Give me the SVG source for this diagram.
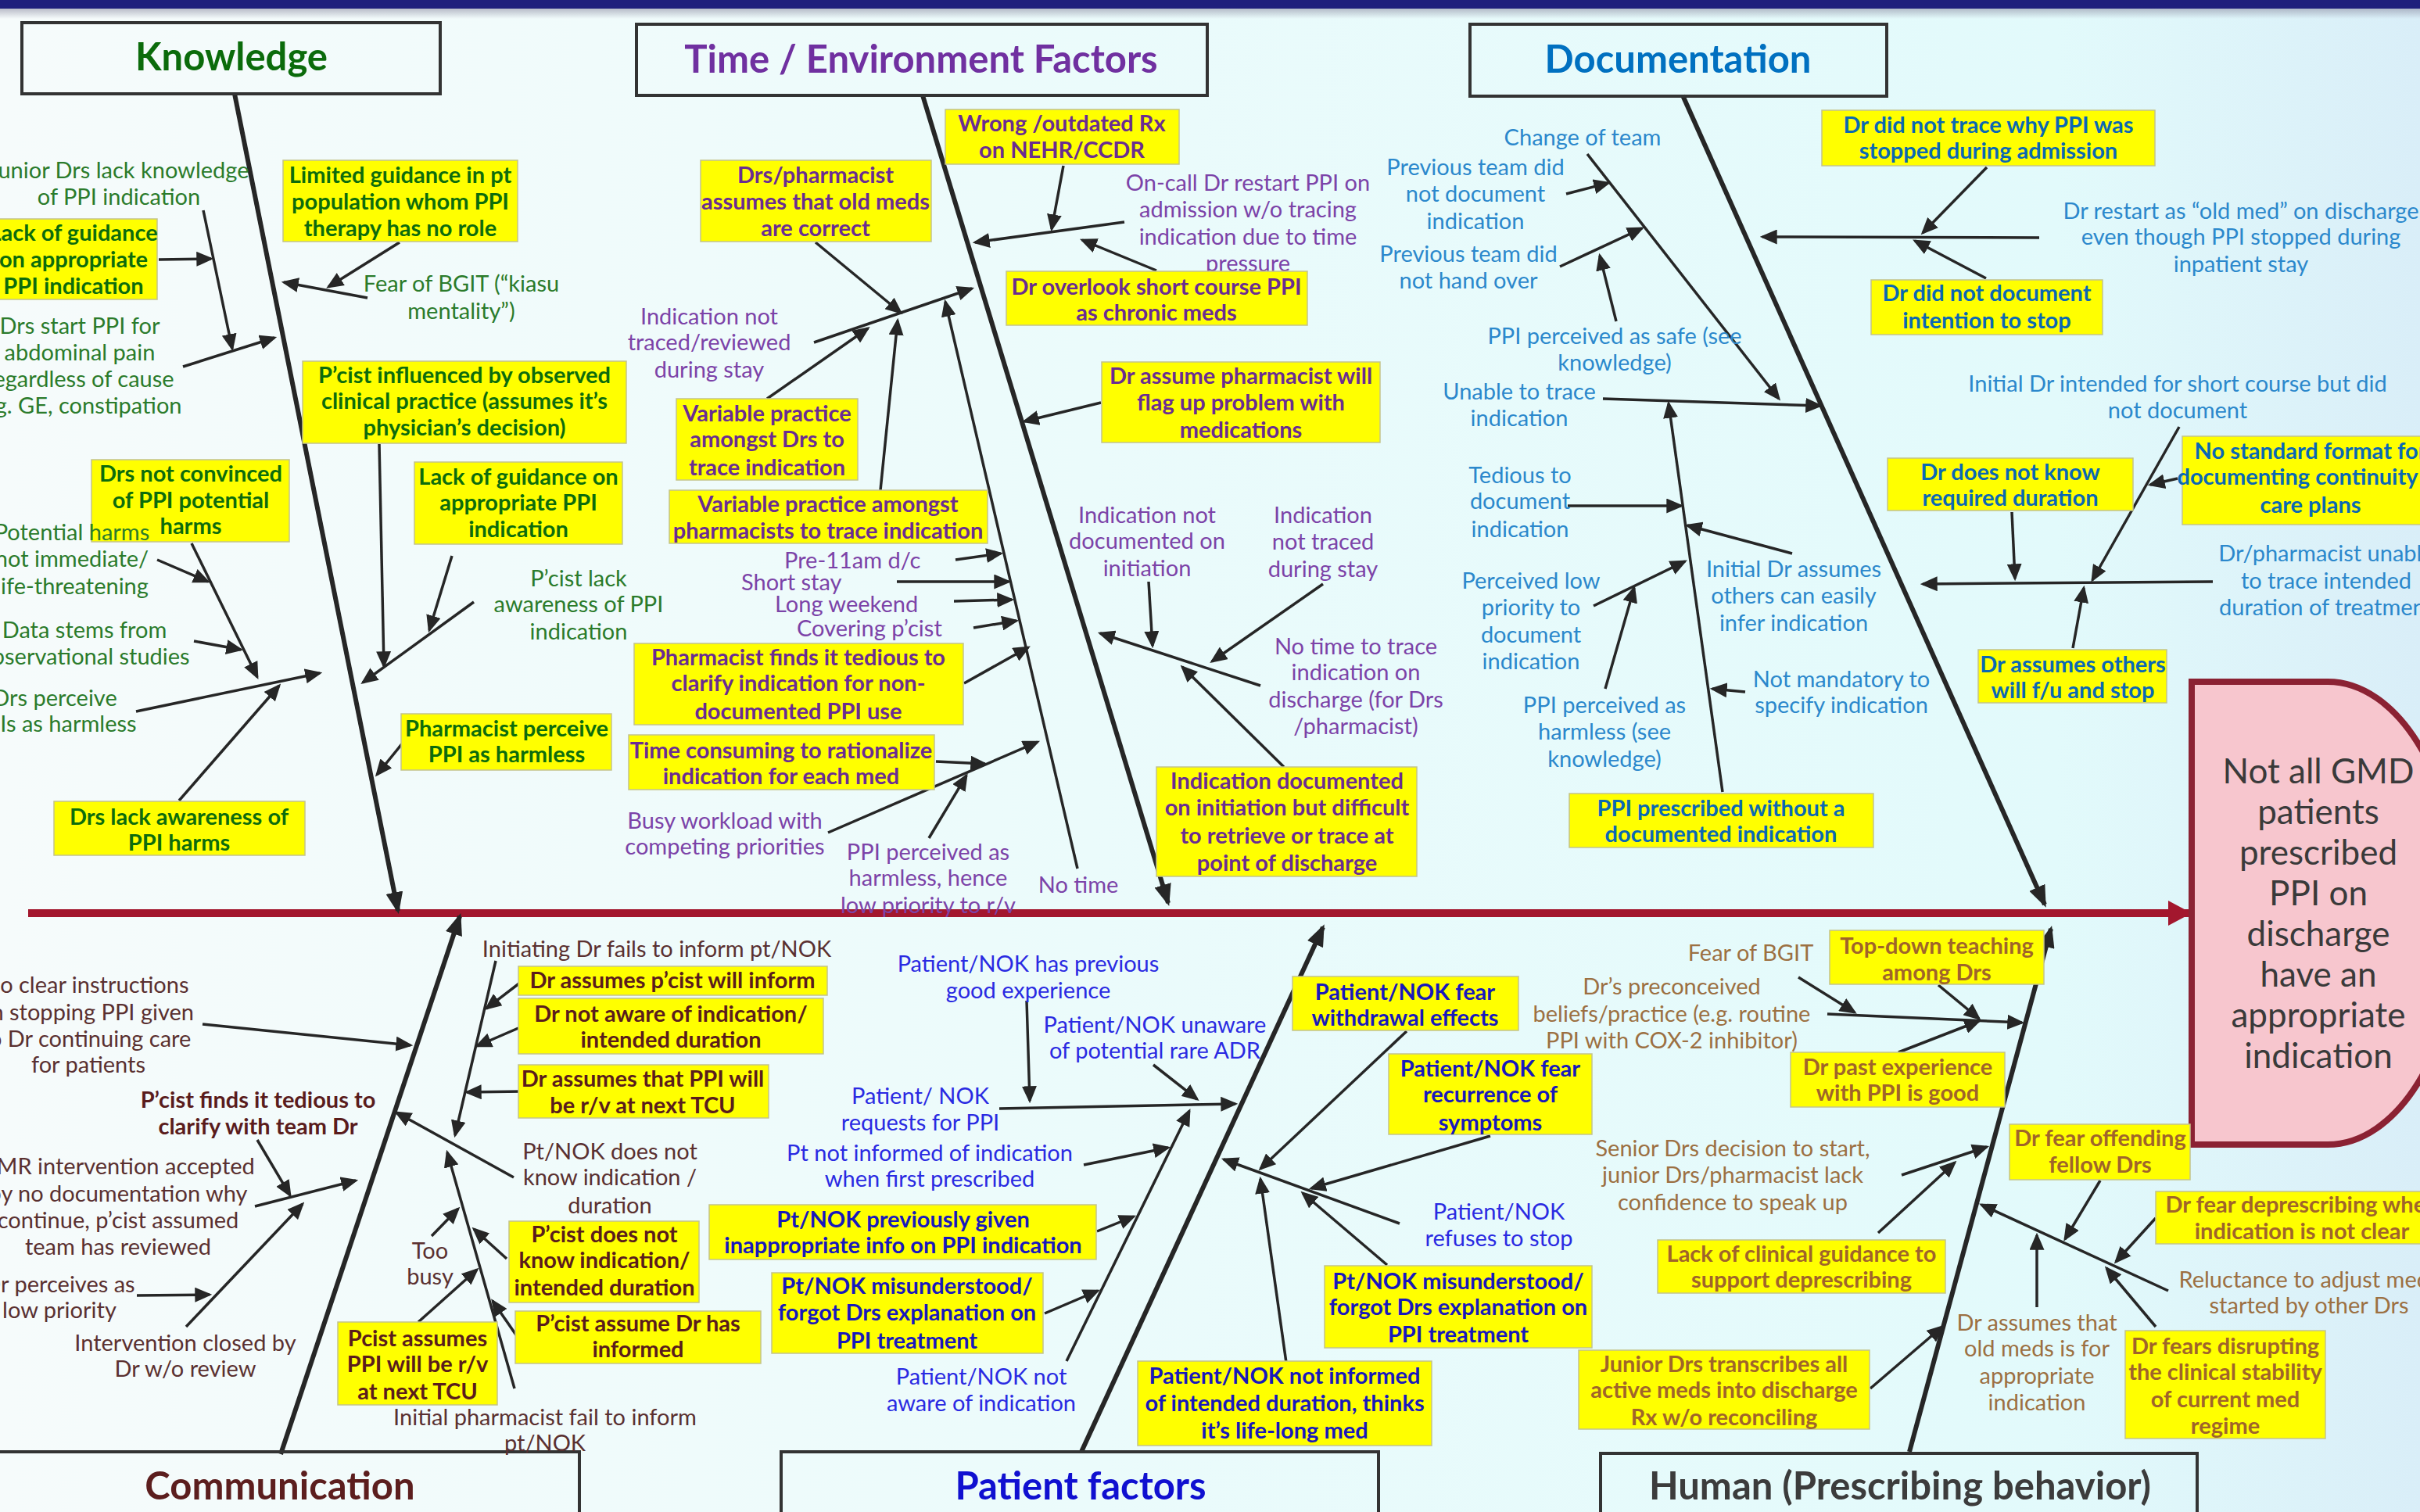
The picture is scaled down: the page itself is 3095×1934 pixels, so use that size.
<svg xmlns="http://www.w3.org/2000/svg" width="3095" height="1934" viewBox="0 0 3095 1934">
<defs>
<linearGradient id="bg" x1="0" y1="0" x2="1" y2="0">
<stop offset="0" stop-color="#f6fbfb"/>
<stop offset="0.45" stop-color="#ebfbfb"/>
<stop offset="0.85" stop-color="#e2fafb"/>
<stop offset="1" stop-color="#d9eef8"/>
</linearGradient>
<linearGradient id="sh" x1="0" y1="0" x2="0" y2="1">
<stop offset="0" stop-color="#8a8aa0" stop-opacity="0.6"/>
<stop offset="1" stop-color="#8a8aa0" stop-opacity="0"/>
</linearGradient>
<marker id="ah" viewBox="0 0 10 10" refX="8.5" refY="5" markerWidth="22" markerHeight="19" markerUnits="userSpaceOnUse" orient="auto" preserveAspectRatio="none"><path d="M0,0 L10,5 L0,10 Z" fill="#262626"/></marker>
<marker id="ahb" viewBox="0 0 10 10" refX="8.5" refY="5" markerWidth="28" markerHeight="22" markerUnits="userSpaceOnUse" orient="auto" preserveAspectRatio="none"><path d="M0,0 L10,5 L0,10 Z" fill="#262626"/></marker>
<marker id="ahr" viewBox="0 0 10 10" refX="9" refY="5" markerWidth="30" markerHeight="32" markerUnits="userSpaceOnUse" orient="auto" preserveAspectRatio="none"><path d="M0,0 L10,5 L0,10 Z" fill="#a3172e"/></marker>
</defs>
<style>
text { font-family: Lato, "Noto Sans", "Liberation Sans", sans-serif; font-size: 29px; text-anchor: middle; }
.k { fill:#2b7b2b } .kb { fill:#0c6c0c; font-weight:bold }
.t { fill:#7c43a8 } .tb { fill:#6a2c92; font-weight:bold }
.d { fill:#2b88cc } .db { fill:#0a68b4; font-weight:bold }
.c { fill:#5a3030 } .cb { fill:#5a1c1c; font-weight:bold }
.p { fill:#2a2ae2 } .pb { fill:#1818bc; font-weight:bold }
.h { fill:#9c7042 } .hb { fill:#a0642a; font-weight:bold }
.y { fill:#ffff00; stroke:#c4c48a; stroke-width:1.5 }
.cat { fill:none; stroke:#333333; stroke-width:4 }
.title { font-size:49px; font-weight:bold }
.a { stroke:#262626; stroke-width:3.5; fill:none; marker-end:url(#ah) }
.bone { stroke:#262626; stroke-width:6; fill:none; marker-end:url(#ahb) }
</style>
<rect x="0" y="0" width="3095" height="1934" fill="url(#bg)"/>
<rect x="0" y="10" width="3095" height="14" fill="url(#sh)"/>
<rect x="0" y="0" width="3095" height="11" fill="#1f1f7c"/>

<g id="connectors">
<line x1="36" y1="1168" x2="2800" y2="1168" stroke="#a3172e" stroke-width="10" marker-end="url(#ahr)"/>
<!-- knowledge -->
<line class="bone" x1="300" y1="120" x2="509" y2="1165"/>
<line class="a" x1="260" y1="269" x2="297" y2="446"/>
<line class="a" x1="203" y1="332" x2="270" y2="331"/>
<line class="a" x1="234" y1="469" x2="351" y2="432"/>
<line class="a" x1="511" y1="310" x2="420" y2="367"/>
<line class="a" x1="470" y1="381" x2="363" y2="361"/>
<line class="a" x1="485" y1="568" x2="491" y2="852"/>
<line class="a" x1="578" y1="711" x2="549" y2="806"/>
<line class="a" x1="606" y1="770" x2="464" y2="873"/>
<line class="a" x1="245" y1="695" x2="329" y2="866"/>
<line class="a" x1="201" y1="716" x2="266" y2="744"/>
<line class="a" x1="248" y1="820" x2="308" y2="831"/>
<line class="a" x1="174" y1="910" x2="409" y2="861"/>
<line class="a" x1="229" y1="1024" x2="357" y2="877"/>
<line class="a" x1="516" y1="949" x2="482" y2="991"/>
<!-- time -->
<line class="bone" x1="1180" y1="122" x2="1494" y2="1155"/>
<line class="a" x1="1360" y1="212" x2="1345" y2="293"/>
<line class="a" x1="1438" y1="284" x2="1247" y2="310"/>
<line class="a" x1="1479" y1="346" x2="1384" y2="307"/>
<line class="a" x1="1043" y1="310" x2="1152" y2="400"/>
<line class="a" x1="1041" y1="438" x2="1243" y2="369"/>
<line class="a" x1="981" y1="510" x2="1110" y2="420"/>
<line class="a" x1="1126" y1="627" x2="1148" y2="410"/>
<line class="a" x1="1378" y1="1111" x2="1209" y2="386"/>
<line class="a" x1="1222" y1="716" x2="1280" y2="708"/>
<line class="a" x1="1147" y1="744" x2="1290" y2="744"/>
<line class="a" x1="1220" y1="769" x2="1294" y2="767"/>
<line class="a" x1="1245" y1="803" x2="1300" y2="794"/>
<line class="a" x1="1233" y1="874" x2="1315" y2="828"/>
<line class="a" x1="1197" y1="974" x2="1260" y2="977"/>
<line class="a" x1="1059" y1="1065" x2="1327" y2="949"/>
<line class="a" x1="1188" y1="1072" x2="1236" y2="992"/>
<line class="a" x1="1408" y1="515" x2="1310" y2="539"/>
<line class="a" x1="1469" y1="744" x2="1474" y2="826"/>
<line class="a" x1="1692" y1="747" x2="1550" y2="846"/>
<line class="a" x1="1612" y1="877" x2="1407" y2="810"/>
<line class="a" x1="1642" y1="981" x2="1512" y2="853"/>
<!-- documentation -->
<line class="bone" x1="2152" y1="122" x2="2615" y2="1157"/>
<line class="a" x1="2030" y1="197" x2="2275" y2="510"/>
<line class="a" x1="2003" y1="248" x2="2057" y2="234"/>
<line class="a" x1="1995" y1="341" x2="2100" y2="292"/>
<line class="a" x1="2067" y1="411" x2="2046" y2="327"/>
<line class="a" x1="2050" y1="510" x2="2328" y2="519"/>
<line class="a" x1="2203" y1="1013" x2="2134" y2="516"/>
<line class="a" x1="2005" y1="647" x2="2150" y2="647"/>
<line class="a" x1="2292" y1="708" x2="2158" y2="672"/>
<line class="a" x1="2038" y1="775" x2="2155" y2="718"/>
<line class="a" x1="2053" y1="881" x2="2090" y2="752"/>
<line class="a" x1="2232" y1="885" x2="2190" y2="881"/>
<line class="a" x1="2608" y1="304" x2="2254" y2="303"/>
<line class="a" x1="2541" y1="214" x2="2459" y2="298"/>
<line class="a" x1="2540" y1="356" x2="2449" y2="308"/>
<line class="a" x1="2787" y1="546" x2="2676" y2="742"/>
<line class="a" x1="2785" y1="612" x2="2750" y2="620"/>
<line class="a" x1="2573" y1="655" x2="2577" y2="740"/>
<line class="a" x1="2830" y1="744" x2="2459" y2="747"/>
<line class="a" x1="2651" y1="829" x2="2665" y2="752"/>
<!-- communication -->
<line class="bone" x1="359" y1="1860" x2="588" y2="1172"/>
<line class="a" x1="259" y1="1310" x2="525" y2="1337"/>
<line class="a" x1="329" y1="1458" x2="371" y2="1529"/>
<line class="a" x1="326" y1="1543" x2="455" y2="1510"/>
<line class="a" x1="175" y1="1657" x2="268" y2="1656"/>
<line class="a" x1="238" y1="1697" x2="387" y2="1540"/>
<line class="a" x1="634" y1="1229" x2="582" y2="1452"/>
<line class="a" x1="669" y1="1254" x2="622" y2="1290"/>
<line class="a" x1="663" y1="1315" x2="610" y2="1338"/>
<line class="a" x1="668" y1="1396" x2="597" y2="1397"/>
<line class="a" x1="657" y1="1506" x2="507" y2="1423"/>
<line class="a" x1="658" y1="1776" x2="572" y2="1474"/>
<line class="a" x1="648" y1="1610" x2="606" y2="1572"/>
<line class="a" x1="661" y1="1709" x2="630" y2="1664"/>
<line class="a" x1="552" y1="1581" x2="586" y2="1546"/>
<line class="a" x1="535" y1="1691" x2="610" y2="1624"/>
<!-- patient -->
<line class="bone" x1="1383" y1="1857" x2="1692" y2="1186"/>
<line class="a" x1="1278" y1="1418" x2="1580" y2="1412"/>
<line class="a" x1="1313" y1="1280" x2="1317" y2="1408"/>
<line class="a" x1="1475" y1="1362" x2="1531" y2="1406"/>
<line class="a" x1="1364" y1="1741" x2="1521" y2="1421"/>
<line class="a" x1="1386" y1="1490" x2="1494" y2="1468"/>
<line class="a" x1="1403" y1="1575" x2="1450" y2="1556"/>
<line class="a" x1="1336" y1="1680" x2="1404" y2="1651"/>
<line class="a" x1="1790" y1="1565" x2="1565" y2="1483"/>
<line class="a" x1="1799" y1="1319" x2="1612" y2="1495"/>
<line class="a" x1="1906" y1="1453" x2="1677" y2="1520"/>
<line class="a" x1="1774" y1="1618" x2="1666" y2="1526"/>
<line class="a" x1="1645" y1="1743" x2="1612" y2="1508"/>
<!-- human -->
<line class="bone" x1="2442" y1="1857" x2="2623" y2="1188"/>
<line class="a" x1="2300" y1="1250" x2="2372" y2="1295"/>
<line class="a" x1="2337" y1="1297" x2="2586" y2="1308"/>
<line class="a" x1="2479" y1="1260" x2="2531" y2="1303"/>
<line class="a" x1="2428" y1="1346" x2="2531" y2="1306"/>
<line class="a" x1="2432" y1="1503" x2="2541" y2="1467"/>
<line class="a" x1="2402" y1="1577" x2="2500" y2="1487"/>
<line class="a" x1="2392" y1="1776" x2="2484" y2="1697"/>
<line class="a" x1="2773" y1="1651" x2="2534" y2="1541"/>
<line class="a" x1="2686" y1="1510" x2="2641" y2="1585"/>
<line class="a" x1="2757" y1="1558" x2="2706" y2="1614"/>
<line class="a" x1="2605" y1="1672" x2="2605" y2="1580"/>
<line class="a" x1="2757" y1="1697" x2="2694" y2="1622"/>
</g>

<!-- categories -->
<g id="cat-knowledge"><rect class="cat" x="28" y="29" width="535" height="91"/><text class="title" x="296" y="90" fill="#0b6b0b">Knowledge</text></g>
<g id="cat-time"><rect class="cat" x="814" y="31" width="730" height="91"/><text class="title" x="1178" y="93" fill="#7030a0">Time / Environment Factors</text></g>
<g id="cat-doc"><rect class="cat" x="1880" y="31" width="533" height="92"/><text class="title" x="2146" y="93" fill="#0070c0">Documentation</text></g>
<g id="cat-comm"><rect class="cat" x="-4" y="1857" width="745" height="90"/><text class="title" x="358" y="1918" fill="#5c1e1e">Communication</text></g>
<g id="cat-patient"><rect class="cat" x="999" y="1857" width="764" height="90"/><text class="title" x="1382" y="1918" fill="#1010d0">Patient factors</text></g>
<g id="cat-human"><rect class="cat" x="2047" y="1859" width="763" height="90"/><text class="title" x="2430" y="1918" fill="#3c3c3c">Human (Prescribing behavior)</text></g>

<!-- effect -->
<g id="effect"><path d="M2803,872 H2977 A170,296 0 0 1 2977,1464 H2803 Z" fill="#f7c6ce" stroke="#8b2233" stroke-width="8"/>
<text x="2965" y="1002" style="font-size:44px" fill="#3a3a3a"><tspan x="2965">Not all GMD</tspan><tspan x="2965" dy="52">patients</tspan><tspan x="2965" dy="52">prescribed</tspan><tspan x="2965" dy="52">PPI on</tspan><tspan x="2965" dy="52">discharge</tspan><tspan x="2965" dy="52">have an</tspan><tspan x="2965" dy="52">appropriate</tspan><tspan x="2965" dy="52">indication</tspan></text></g>

<!-- Knowledge nodes -->
<g id="k1"><text class="k"><tspan x="152" y="228">Junior Drs lack knowledge</tspan><tspan x="152" y="262">of PPI indication</tspan></text></g>
<g id="k2"><rect class="y" x="-4" y="280" width="205" height="103"/><text class="kb"><tspan x="94" y="308">Lack of guidance</tspan><tspan x="94" y="342">on appropriate</tspan><tspan x="94" y="376">PPI indication</tspan></text></g>
<g id="k3"><text class="k"><tspan x="102" y="427">Drs start PPI for</tspan><tspan x="102" y="461">abdominal pain</tspan><tspan x="102" y="495">regardless of cause</tspan><tspan x="102" y="529">e.g. GE, constipation</tspan></text></g>
<g id="k4"><rect class="y" x="362" y="205" width="300" height="104"/><text class="kb"><tspan x="512" y="234">Limited guidance in pt</tspan><tspan x="512" y="268">population whom PPI</tspan><tspan x="512" y="302">therapy has no role</tspan></text></g>
<g id="k5"><text class="k"><tspan x="590" y="373">Fear of BGIT (“kiasu</tspan><tspan x="590" y="408">mentality”)</tspan></text></g>
<g id="k6"><rect class="y" x="387" y="462" width="414" height="105"/><text class="kb"><tspan x="594" y="490">P’cist influenced by observed</tspan><tspan x="594" y="523">clinical practice (assumes it’s</tspan><tspan x="594" y="557">physician’s decision)</tspan></text></g>
<g id="k7"><rect class="y" x="530" y="591" width="266" height="105"/><text class="kb"><tspan x="663" y="620">Lack of guidance on</tspan><tspan x="663" y="653">appropriate PPI</tspan><tspan x="663" y="687">indication</tspan></text></g>
<g id="k8"><text class="k"><tspan x="740" y="750">P’cist lack</tspan><tspan x="740" y="783">awareness of PPI</tspan><tspan x="740" y="818">indication</tspan></text></g>
<g id="k9"><rect class="y" x="117" y="588" width="253" height="105"/><text class="kb"><tspan x="244" y="616">Drs not convinced</tspan><tspan x="244" y="650">of PPI potential</tspan><tspan x="244" y="683">harms</tspan></text></g>
<g id="k10"><text class="k"><tspan x="92" y="691">Potential harms</tspan><tspan x="92" y="725">not immediate/</tspan><tspan x="92" y="760">life-threatening</tspan></text></g>
<g id="k11"><text class="k"><tspan x="108" y="816">Data stems from</tspan><tspan x="108" y="850">observational studies</tspan></text></g>
<g id="k12"><text class="k"><tspan x="70" y="903">Drs perceive</tspan><tspan x="70" y="936">PPIs as harmless</tspan></text></g>
<g id="k13"><rect class="y" x="69" y="1025" width="321" height="69"/><text class="kb"><tspan x="229" y="1055">Drs lack awareness of</tspan><tspan x="229" y="1088">PPI harms</tspan></text></g>
<g id="k14"><rect class="y" x="513" y="913" width="269" height="72"/><text class="kb"><tspan x="648" y="942">Pharmacist perceive</tspan><tspan x="648" y="975">PPI as harmless</tspan></text></g>

<!-- Time nodes -->
<g id="t1"><rect class="y" x="1209" y="140" width="299" height="70"/><text class="tb"><tspan x="1358" y="168">Wrong /outdated Rx</tspan><tspan x="1358" y="202">on NEHR/CCDR</tspan></text></g>
<g id="t2"><text class="t"><tspan x="1596" y="244">On-call Dr restart PPI on</tspan><tspan x="1596" y="278">admission w/o tracing</tspan><tspan x="1596" y="313">indication due to time</tspan><tspan x="1596" y="347">pressure</tspan></text></g>
<g id="t3"><rect class="y" x="1287" y="347" width="385" height="69"/><text class="tb"><tspan x="1479" y="377">Dr overlook short course PPI</tspan><tspan x="1479" y="410">as chronic meds</tspan></text></g>
<g id="t4"><rect class="y" x="896" y="205" width="295" height="104"/><text class="tb"><tspan x="1043" y="234">Drs/pharmacist</tspan><tspan x="1043" y="268">assumes that old meds</tspan><tspan x="1043" y="302">are correct</tspan></text></g>
<g id="t5"><text class="t"><tspan x="907" y="415">Indication not</tspan><tspan x="907" y="448">traced/reviewed</tspan><tspan x="907" y="483">during stay</tspan></text></g>
<g id="t6"><rect class="y" x="865" y="510" width="232" height="104"/><text class="tb"><tspan x="981" y="539">Variable practice</tspan><tspan x="981" y="572">amongst Drs to</tspan><tspan x="981" y="608">trace indication</tspan></text></g>
<g id="t7"><rect class="y" x="856" y="627" width="407" height="68"/><text class="tb"><tspan x="1059" y="655">Variable practice amongst</tspan><tspan x="1059" y="689">pharmacists to trace indication</tspan></text></g>
<g id="t8a"><text class="t" x="1003" y="727" style="text-anchor:start">Pre-11am d/c</text></g>
<g id="t8b"><text class="t" x="948" y="755" style="text-anchor:start">Short stay</text></g>
<g id="t8c"><text class="t" x="991" y="783" style="text-anchor:start">Long weekend</text></g>
<g id="t8d"><text class="t" x="1019" y="814" style="text-anchor:start">Covering p’cist</text></g>
<g id="t9"><rect class="y" x="811" y="823" width="421" height="104"/><text class="tb"><tspan x="1021" y="851">Pharmacist finds it tedious to</tspan><tspan x="1021" y="884">clarify indication for non-</tspan><tspan x="1021" y="920">documented PPI use</tspan></text></g>
<g id="t10"><rect class="y" x="804" y="940" width="391" height="70"/><text class="tb"><tspan x="999" y="970">Time consuming to rationalize</tspan><tspan x="999" y="1003">indication for each  med</tspan></text></g>
<g id="t11"><text class="t"><tspan x="927" y="1060">Busy workload with</tspan><tspan x="927" y="1093">competing priorities</tspan></text></g>
<g id="t12"><text class="t"><tspan x="1187" y="1100">PPI perceived as</tspan><tspan x="1187" y="1133">harmless, hence</tspan><tspan x="1187" y="1168">low priority to r/v</tspan></text></g>
<g id="t13"><text class="t" x="1379" y="1142">No time</text></g>
<g id="t14"><rect class="y" x="1409" y="463" width="356" height="103"/><text class="tb"><tspan x="1587" y="491">Dr assume pharmacist will</tspan><tspan x="1587" y="525">flag up problem with</tspan><tspan x="1587" y="560">medications</tspan></text></g>
<g id="t15"><text class="t"><tspan x="1467" y="669">Indication not</tspan><tspan x="1467" y="702">documented on</tspan><tspan x="1467" y="737">initiation</tspan></text></g>
<g id="t16"><text class="t"><tspan x="1692" y="669">Indication</tspan><tspan x="1692" y="703">not traced</tspan><tspan x="1692" y="738">during stay</tspan></text></g>
<g id="t17"><text class="t"><tspan x="1734" y="837">No time to trace</tspan><tspan x="1734" y="870">indication on</tspan><tspan x="1734" y="905">discharge (for Drs</tspan><tspan x="1734" y="939">/pharmacist)</tspan></text></g>
<g id="t18"><rect class="y" x="1479" y="981" width="333" height="140"/><text class="tb"><tspan x="1646" y="1009">Indication documented</tspan><tspan x="1646" y="1043">on initiation but difficult</tspan><tspan x="1646" y="1079">to retrieve or trace at</tspan><tspan x="1646" y="1114">point of discharge</tspan></text></g>

<!-- Documentation nodes -->
<g id="d1"><text class="d" x="2024" y="186">Change of team</text></g>
<g id="d2"><text class="d"><tspan x="1887" y="224">Previous team did</tspan><tspan x="1887" y="258">not document</tspan><tspan x="1887" y="293">indication</tspan></text></g>
<g id="d3"><text class="d"><tspan x="1878" y="335">Previous team did</tspan><tspan x="1878" y="369">not hand over</tspan></text></g>
<g id="d4"><text class="d"><tspan x="2065" y="440">PPI perceived as safe (see</tspan><tspan x="2065" y="474">knowledge)</tspan></text></g>
<g id="d5"><text class="d"><tspan x="1943" y="511">Unable to trace</tspan><tspan x="1943" y="545">indication</tspan></text></g>
<g id="d6"><text class="d"><tspan x="1944" y="618">Tedious to</tspan><tspan x="1944" y="651">document</tspan><tspan x="1944" y="687">indication</tspan></text></g>
<g id="d7"><text class="d"><tspan x="1958" y="753">Perceived low</tspan><tspan x="1958" y="787">priority to</tspan><tspan x="1958" y="822">document</tspan><tspan x="1958" y="856">indication</tspan></text></g>
<g id="d8"><text class="d"><tspan x="2052" y="912">PPI perceived as</tspan><tspan x="2052" y="946">harmless (see</tspan><tspan x="2052" y="981">knowledge)</tspan></text></g>
<g id="d9"><text class="d"><tspan x="2294" y="738">Initial Dr assumes</tspan><tspan x="2294" y="772">others can easily</tspan><tspan x="2294" y="807">infer indication</tspan></text></g>
<g id="d10"><text class="d"><tspan x="2355" y="879">Not mandatory to</tspan><tspan x="2355" y="912">specify indication</tspan></text></g>
<g id="d11"><rect class="y" x="2007" y="1015" width="389" height="69"/><text class="db"><tspan x="2201" y="1044">PPI prescribed without a</tspan><tspan x="2201" y="1077">documented indication</tspan></text></g>
<g id="d12"><rect class="y" x="2330" y="141" width="426" height="71"/><text class="db"><tspan x="2543" y="170">Dr did not trace why PPI was</tspan><tspan x="2543" y="203">stopped during admission</tspan></text></g>
<g id="d14"><text class="d"><tspan x="2866" y="280">Dr restart as “old med” on discharge</tspan><tspan x="2866" y="313">even though PPI stopped during</tspan><tspan x="2866" y="348">inpatient stay</tspan></text></g>
<g id="d15"><rect class="y" x="2393" y="358" width="296" height="70"/><text class="db"><tspan x="2541" y="385">Dr did not document</tspan><tspan x="2541" y="420">intention to stop</tspan></text></g>
<g id="d16"><text class="d"><tspan x="2785" y="501">Initial Dr intended for short course but did</tspan><tspan x="2785" y="535">not document</tspan></text></g>
<g id="d17"><rect class="y" x="2791" y="558" width="320" height="113"/><text class="db"><tspan x="2955" y="587">No standard format for</tspan><tspan x="2955" y="620">documenting continuity of</tspan><tspan x="2955" y="656">care plans</tspan></text></g>
<g id="d18"><rect class="y" x="2414" y="586" width="314" height="67"/><text class="db"><tspan x="2571" y="614">Dr does not know</tspan><tspan x="2571" y="647">required duration</tspan></text></g>
<g id="d20"><text class="d"><tspan x="2975" y="718">Dr/pharmacist unable</tspan><tspan x="2975" y="753">to trace intended</tspan><tspan x="2975" y="787">duration of treatment</tspan></text></g>
<g id="d21"><rect class="y" x="2530" y="831" width="241" height="68"/><text class="db"><tspan x="2651" y="860">Dr assumes others</tspan><tspan x="2651" y="893">will f/u and stop</tspan></text></g>

<!-- Communication nodes -->
<g id="c1"><text class="c"><tspan x="110" y="1270">No clear instructions</tspan><tspan x="110" y="1305">on stopping PPI given</tspan><tspan x="110" y="1339">to Dr continuing care</tspan><tspan x="113" y="1372">for patients</tspan></text></g>
<g id="c2"><text class="cb"><tspan x="330" y="1417">P’cist finds it tedious to</tspan><tspan x="330" y="1451">clarify with team Dr</tspan></text></g>
<g id="c3"><text class="c"><tspan x="151" y="1502">CMR intervention accepted</tspan><tspan x="151" y="1537">by no documentation why</tspan><tspan x="151" y="1571">continue, p’cist assumed</tspan><tspan x="151" y="1605">team has reviewed</tspan></text></g>
<g id="c4"><text class="c"><tspan x="76" y="1653">Dr perceives as</tspan><tspan x="76" y="1686">low priority</tspan></text></g>
<g id="c5"><text class="c"><tspan x="237" y="1728">Intervention closed by</tspan><tspan x="237" y="1761">Dr w/o review</tspan></text></g>
<g id="c6"><text class="c" x="840" y="1224">Initiating Dr fails to inform pt/NOK</text></g>
<g id="c7"><rect class="y" x="663" y="1236" width="395" height="37"/><text class="cb" x="860" y="1264">Dr assumes p’cist will inform</text></g>
<g id="c8"><rect class="y" x="663" y="1277" width="390" height="71"/><text class="cb"><tspan x="858" y="1307">Dr not aware of indication/</tspan><tspan x="858" y="1340">intended duration</tspan></text></g>
<g id="c9"><rect class="y" x="663" y="1362" width="320" height="68"/><text class="cb"><tspan x="822" y="1390">Dr assumes that PPI will</tspan><tspan x="822" y="1424">be r/v at next TCU</tspan></text></g>
<g id="c10"><text class="c"><tspan x="780" y="1483">Pt/NOK does not</tspan><tspan x="780" y="1516">know indication /</tspan><tspan x="780" y="1552">duration</tspan></text></g>
<g id="c11"><rect class="y" x="651" y="1562" width="243" height="104"/><text class="cb"><tspan x="773" y="1589">P’cist does not</tspan><tspan x="773" y="1622">know indication/</tspan><tspan x="773" y="1657">intended duration</tspan></text></g>
<g id="c12"><rect class="y" x="659" y="1677" width="314" height="67"/><text class="cb"><tspan x="816" y="1703">P’cist assume Dr has</tspan><tspan x="816" y="1736">informed</tspan></text></g>
<g id="c13"><text class="c"><tspan x="550" y="1610">Too</tspan><tspan x="550" y="1643">busy</tspan></text></g>
<g id="c14"><rect class="y" x="432" y="1691" width="204" height="106"/><text class="cb"><tspan x="534" y="1722">Pcist assumes</tspan><tspan x="534" y="1755">PPI will be r/v</tspan><tspan x="534" y="1790">at next TCU</tspan></text></g>
<g id="c15"><text class="c"><tspan x="697" y="1823">Initial pharmacist fail to inform</tspan><tspan x="697" y="1856">pt/NOK</tspan></text></g>

<!-- Patient nodes -->
<g id="p1"><text class="p"><tspan x="1315" y="1243">Patient/NOK has previous</tspan><tspan x="1315" y="1277">good experience</tspan></text></g>
<g id="p2"><text class="p"><tspan x="1477" y="1321">Patient/NOK unaware</tspan><tspan x="1477" y="1354">of potential rare ADR</tspan></text></g>
<g id="p3"><text class="p"><tspan x="1177" y="1412">Patient/ NOK</tspan><tspan x="1177" y="1446">requests for PPI</tspan></text></g>
<g id="p4"><text class="p"><tspan x="1189" y="1485">Pt not informed of indication</tspan><tspan x="1189" y="1518">when first prescribed</tspan></text></g>
<g id="p5"><rect class="y" x="907" y="1541" width="495" height="70"/><text class="pb"><tspan x="1155" y="1570">Pt/NOK previously given</tspan><tspan x="1155" y="1603">inappropriate info on PPI indication</tspan></text></g>
<g id="p6"><rect class="y" x="987" y="1628" width="347" height="103"/><text class="pb"><tspan x="1160" y="1655">Pt/NOK misunderstood/</tspan><tspan x="1160" y="1689">forgot Drs explanation on</tspan><tspan x="1160" y="1725">PPI treatment</tspan></text></g>
<g id="p7"><text class="p"><tspan x="1255" y="1771">Patient/NOK not</tspan><tspan x="1255" y="1805">aware of indication</tspan></text></g>
<g id="p8"><rect class="y" x="1653" y="1249" width="289" height="69"/><text class="pb"><tspan x="1797" y="1279">Patient/NOK fear</tspan><tspan x="1797" y="1312">withdrawal effects</tspan></text></g>
<g id="p9"><rect class="y" x="1776" y="1348" width="260" height="103"/><text class="pb"><tspan x="1906" y="1377">Patient/NOK fear</tspan><tspan x="1906" y="1410">recurrence of</tspan><tspan x="1906" y="1446">symptoms</tspan></text></g>
<g id="p10"><text class="p"><tspan x="1917" y="1560">Patient/NOK</tspan><tspan x="1917" y="1594">refuses to stop</tspan></text></g>
<g id="p11"><rect class="y" x="1694" y="1619" width="342" height="105"/><text class="pb"><tspan x="1865" y="1649">Pt/NOK misunderstood/</tspan><tspan x="1865" y="1682">forgot Drs explanation on</tspan><tspan x="1865" y="1717">PPI treatment</tspan></text></g>
<g id="p12"><rect class="y" x="1455" y="1741" width="376" height="108"/><text class="pb"><tspan x="1643" y="1770">Patient/NOK not informed</tspan><tspan x="1643" y="1805">of intended duration, thinks</tspan><tspan x="1643" y="1840">it’s life-long med</tspan></text></g>

<!-- Human nodes -->
<g id="h1"><text class="h" x="2239" y="1229">Fear of BGIT</text></g>
<g id="h2"><text class="h"><tspan x="2138" y="1272">Dr’s preconceived</tspan><tspan x="2138" y="1307">beliefs/practice (e.g. routine</tspan><tspan x="2138" y="1341">PPI with COX-2 inhibitor)</tspan></text></g>
<g id="h3"><rect class="y" x="2340" y="1190" width="274" height="69"/><text class="hb"><tspan x="2477" y="1220">Top-down teaching</tspan><tspan x="2477" y="1254">among Drs</tspan></text></g>
<g id="h4"><rect class="y" x="2290" y="1346" width="274" height="70"/><text class="hb"><tspan x="2427" y="1375">Dr past experience</tspan><tspan x="2427" y="1408">with PPI is good</tspan></text></g>
<g id="h5"><text class="h"><tspan x="2216" y="1479">Senior Drs decision to start,</tspan><tspan x="2216" y="1513">junior Drs/pharmacist lack</tspan><tspan x="2216" y="1548">confidence to speak up</tspan></text></g>
<g id="h6"><rect class="y" x="2120" y="1586" width="368" height="68"/><text class="hb"><tspan x="2304" y="1614">Lack of clinical guidance to</tspan><tspan x="2304" y="1647">support deprescribing</tspan></text></g>
<g id="h7"><rect class="y" x="2019" y="1727" width="372" height="101"/><text class="hb"><tspan x="2205" y="1755">Junior Drs transcribes all</tspan><tspan x="2205" y="1788">active meds into discharge</tspan><tspan x="2205" y="1823">Rx w/o reconciling</tspan></text></g>
<g id="h8"><rect class="y" x="2570" y="1438" width="231" height="71"/><text class="hb"><tspan x="2686" y="1466">Dr fear offending</tspan><tspan x="2686" y="1500">fellow Drs</tspan></text></g>
<g id="h9"><rect class="y" x="2757" y="1524" width="360" height="67"/><text class="hb"><tspan x="2944" y="1551">Dr fear deprescribing when</tspan><tspan x="2944" y="1585">indication is not clear</tspan></text></g>
<g id="h10"><text class="h"><tspan x="2953" y="1647">Reluctance to adjust meds</tspan><tspan x="2953" y="1680">started by other Drs</tspan></text></g>
<g id="h11"><text class="h"><tspan x="2605" y="1702">Dr assumes that</tspan><tspan x="2605" y="1735">old meds is for</tspan><tspan x="2605" y="1770">appropriate</tspan><tspan x="2605" y="1804">indication</tspan></text></g>
<g id="h12"><rect class="y" x="2718" y="1702" width="256" height="138"/><text class="hb"><tspan x="2846" y="1732">Dr fears disrupting</tspan><tspan x="2846" y="1765">the clinical stability</tspan><tspan x="2846" y="1800">of current med</tspan><tspan x="2846" y="1834">regime</tspan></text></g>
</svg>
